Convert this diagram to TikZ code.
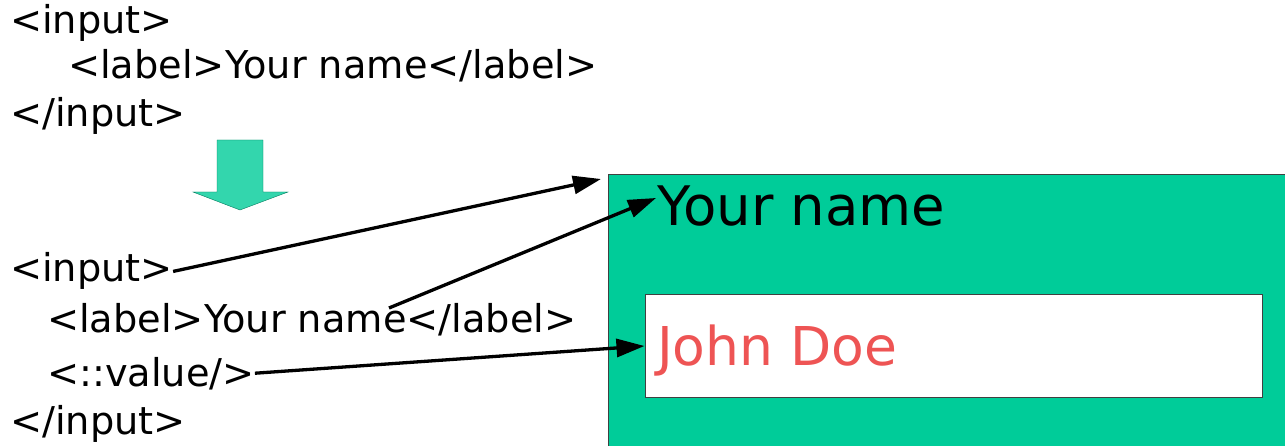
\documentclass[tikz,border=0pt]{standalone}
\usepackage{fontspec}
\setmainfont{DejaVu Sans}
\usepackage{tikz}
\usetikzlibrary{arrows.meta}
\definecolor{formgreen}{RGB}{0,204,153}
\definecolor{hintred}{RGB}{238,84,84}
\tikzset{
  code/.style={anchor=base west, inner sep=0pt, font=\fontsize{38.3}{40}\selectfont},
  shown/.style={anchor=base west, inner sep=0pt, font=\fontsize{54.5}{56}\selectfont},
  pointer/.style={line width=3.3pt, -{Triangle[length=28pt,width=18pt]}},
}

\begin{document}
\begin{tikzpicture}[x=1pt,y=-1pt]
    \useasboundingbox (0,0) rectangle (1285,446);
    % markup before
    \node[code] (inA) at (10,34) {<input>};
    \node[code] (labA) at (68,79) {<label>Your name</label>};
    \node[code] (endA) at (10,127) {</input>};
    % green down arrow
    \draw[draw=formgreen!60!black, fill=formgreen!80!white]
      (217,140) -- (263,140) -- (263,192) -- (288,192) -- (240,210)
      -- (193,192) -- (217,192) -- cycle;
    % markup after
    \node[code] (inB) at (10,282) {<input>};
    \node[code] (labB) at (47,333) {<label>Your name</label>};
    \node[code] (valB) at (47,386) {<::value/>};
    \node[code] (endB) at (10,434) {</input>};
    % rendered form
    \draw[fill=formgreen, draw=black!75, line width=1pt] (608,175) rectangle (1300,460);
    \node[shown] (title) at (657,226) {Your name};
    \node[draw=black!75, line width=1pt, fill=white, minimum width=617pt,
      minimum height=102pt, inner sep=0pt] (field) at (953.5,346) {};
    \node[shown, font=\fontsize{53.5}{56}\selectfont, text=hintred] (john) at (657,365) {John Doe};
    \coordinate (corner) at (601,179);
    \coordinate (titletip) at (656,198);
    \coordinate (namefrom) at (389,308);
    % pointers
    \draw[pointer] (inB.east) -- (corner);
    \draw[pointer] (namefrom) -- (titletip);
    \draw[pointer] (valB.east) -- (field.west);
\end{tikzpicture}
\end{document}
